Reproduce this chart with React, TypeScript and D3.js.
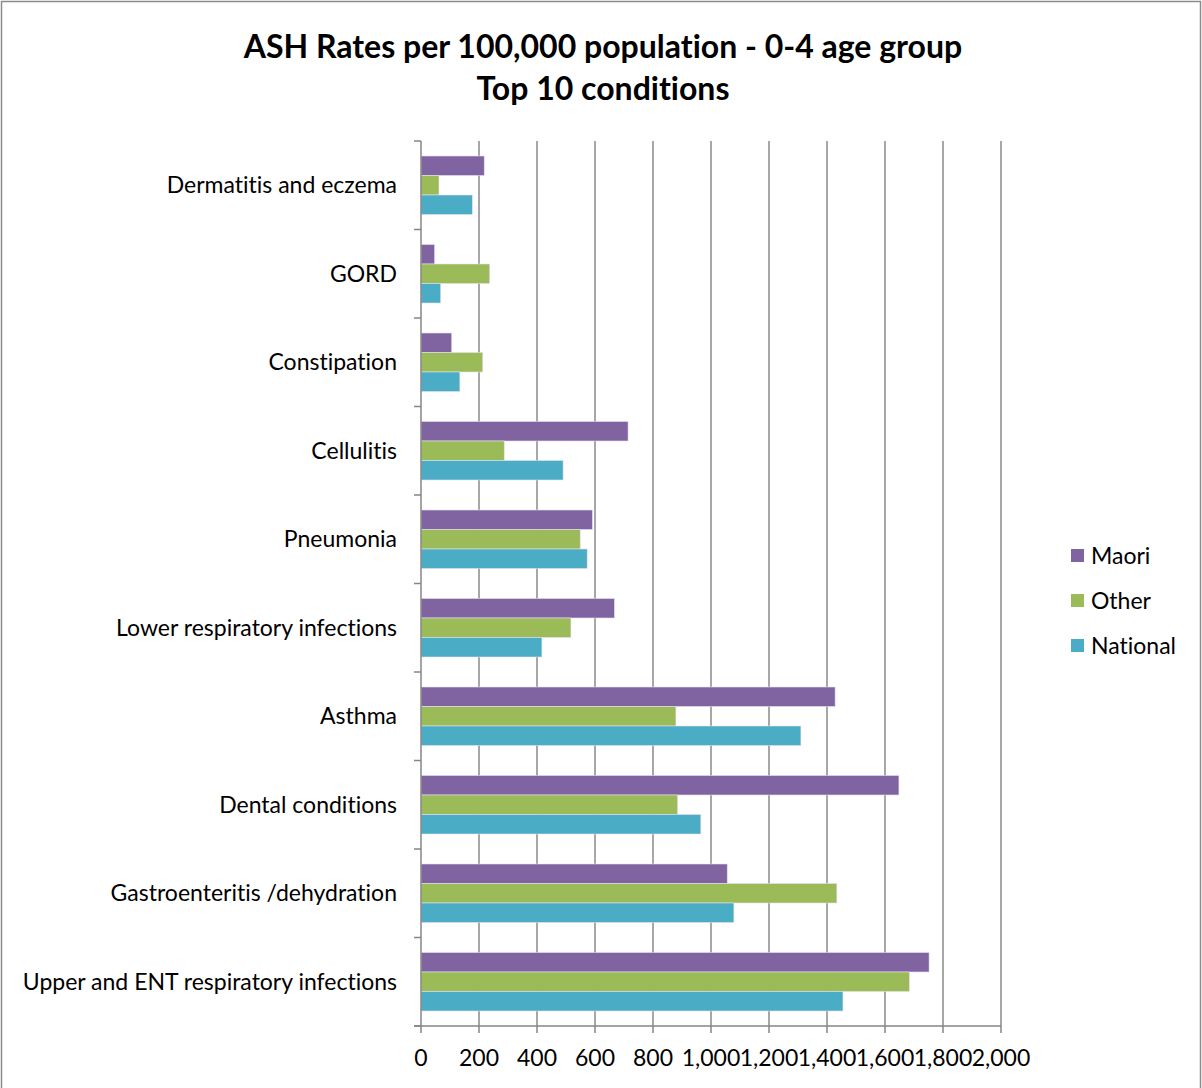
import React from 'react';
import * as d3 from 'd3';

// categories, top to bottom as drawn
const conditions = [
  'Dermatitis and eczema',
  'GORD',
  'Constipation',
  'Cellulitis',
  'Pneumonia',
  'Lower respiratory infections',
  'Asthma',
  'Dental conditions',
  'Gastroenteritis /dehydration',
  'Upper and ENT respiratory infections',
];

const seriesNames = ['Maori', 'Other', 'National'];
const seriesColors = ['#8064A2', '#9BBB59', '#4BACC6'];

const maori = [218, 47, 106, 714, 591, 667, 1428, 1648, 1056, 1752];
const other = [62, 237, 213, 287, 549, 517, 879, 885, 1434, 1684];
const national = [177, 68, 134, 490, 573, 417, 1310, 965, 1079, 1455];

const xTicks = [0, 200, 400, 600, 800, 1000, 1200, 1400, 1600, 1800, 2000];

const W = 1202;
const H = 1088;
const FONT = 'Lato, "Open Sans", sans-serif';

const App: React.FC = () => {
  const values = [maori, other, national];

  const x = d3.scaleLinear().domain([0, 2000]).range([421, 1001]);
  const y = d3
    .scaleBand<string>()
    .domain(conditions)
    .range([141, 1026])
    .paddingInner(30 / 88.5)
    .paddingOuter(15 / 88.5);
  const inner = d3.scaleBand<string>().domain(seriesNames).range([0, y.bandwidth()]);

  const step = y.step();
  const boundaries = d3.range(conditions.length + 1).map(i => 141 + i * step);
  const fmt = d3.format(',');

  return (
    <svg
      width={W}
      height={H}
      style={{ position: 'absolute', left: 0, top: 0, fontVariantLigatures: 'none' }}
      fontFamily={FONT}
    >
      <rect x={0} y={0} width={W} height={H} fill="#fff" />
      <rect x={1.5} y={1.5} width={W - 3} height={H + 20} fill="none" stroke="#8c8c8c" strokeWidth={1.5} />

      {/* title */}
      <text x={603} y={58} textAnchor="middle" fontSize={32} fontWeight="bold" fill="#000">
        ASH Rates per 100,000 population - 0-4 age group
      </text>
      <text x={603} y={100} textAnchor="middle" fontSize={32} fontWeight="bold" fill="#000">
        Top 10 conditions
      </text>

      {/* vertical gridlines */}
      {xTicks.slice(1).map(t => (
        <line key={t} x1={x(t)} x2={x(t)} y1={141} y2={1026} stroke="#8a8a8a" strokeWidth={1.5} />
      ))}

      {/* bars */}
      {conditions.map((c, i) => (
        <g key={c} transform={`translate(0,${y(c)})`}>
          {seriesNames.map((s, j) => (
            <rect
              key={s}
              x={x(0)}
              y={inner(s)}
              width={x(values[j][i]) - x(0)}
              height={inner.bandwidth()}
              fill={seriesColors[j]}
              stroke="#e4e0ee"
              strokeWidth={0.6}
            />
          ))}
        </g>
      ))}

      {/* axes */}
      <line x1={421} x2={421} y1={141} y2={1026} stroke="#868686" strokeWidth={1.5} />
      <line x1={414} x2={1001} y1={1026} y2={1026} stroke="#868686" strokeWidth={1.5} />
      {boundaries.map((b, i) => (
        <line key={i} x1={414} x2={421} y1={b} y2={b} stroke="#868686" strokeWidth={1.5} />
      ))}
      {xTicks.map(t => (
        <line key={t} x1={x(t)} x2={x(t)} y1={1026} y2={1033} stroke="#868686" strokeWidth={1.5} />
      ))}

      {/* tick labels */}
      {xTicks.map(t => (
        <text key={t} x={x(t)} y={1066} textAnchor="middle" fontSize={23} fill="#000">
          {fmt(t)}
        </text>
      ))}

      {/* category labels */}
      {conditions.map(c => (
        <text
          key={c}
          x={397}
          y={(y(c) ?? 0) + y.bandwidth() / 2}
          dy="0.35em"
          textAnchor="end"
          fontSize={23}
          fill="#000"
        >
          {c}
        </text>
      ))}

      {/* legend */}
      {seriesNames.map((s, j) => (
        <g key={s} transform={`translate(1071,${556 + j * 45})`}>
          <rect x={0} y={-7} width={13} height={13} fill={seriesColors[j]} />
          <text x={20} y={0} dy="0.35em" fontSize={23} fill="#000">
            {s}
          </text>
        </g>
      ))}
    </svg>
  );
};

export default App;
